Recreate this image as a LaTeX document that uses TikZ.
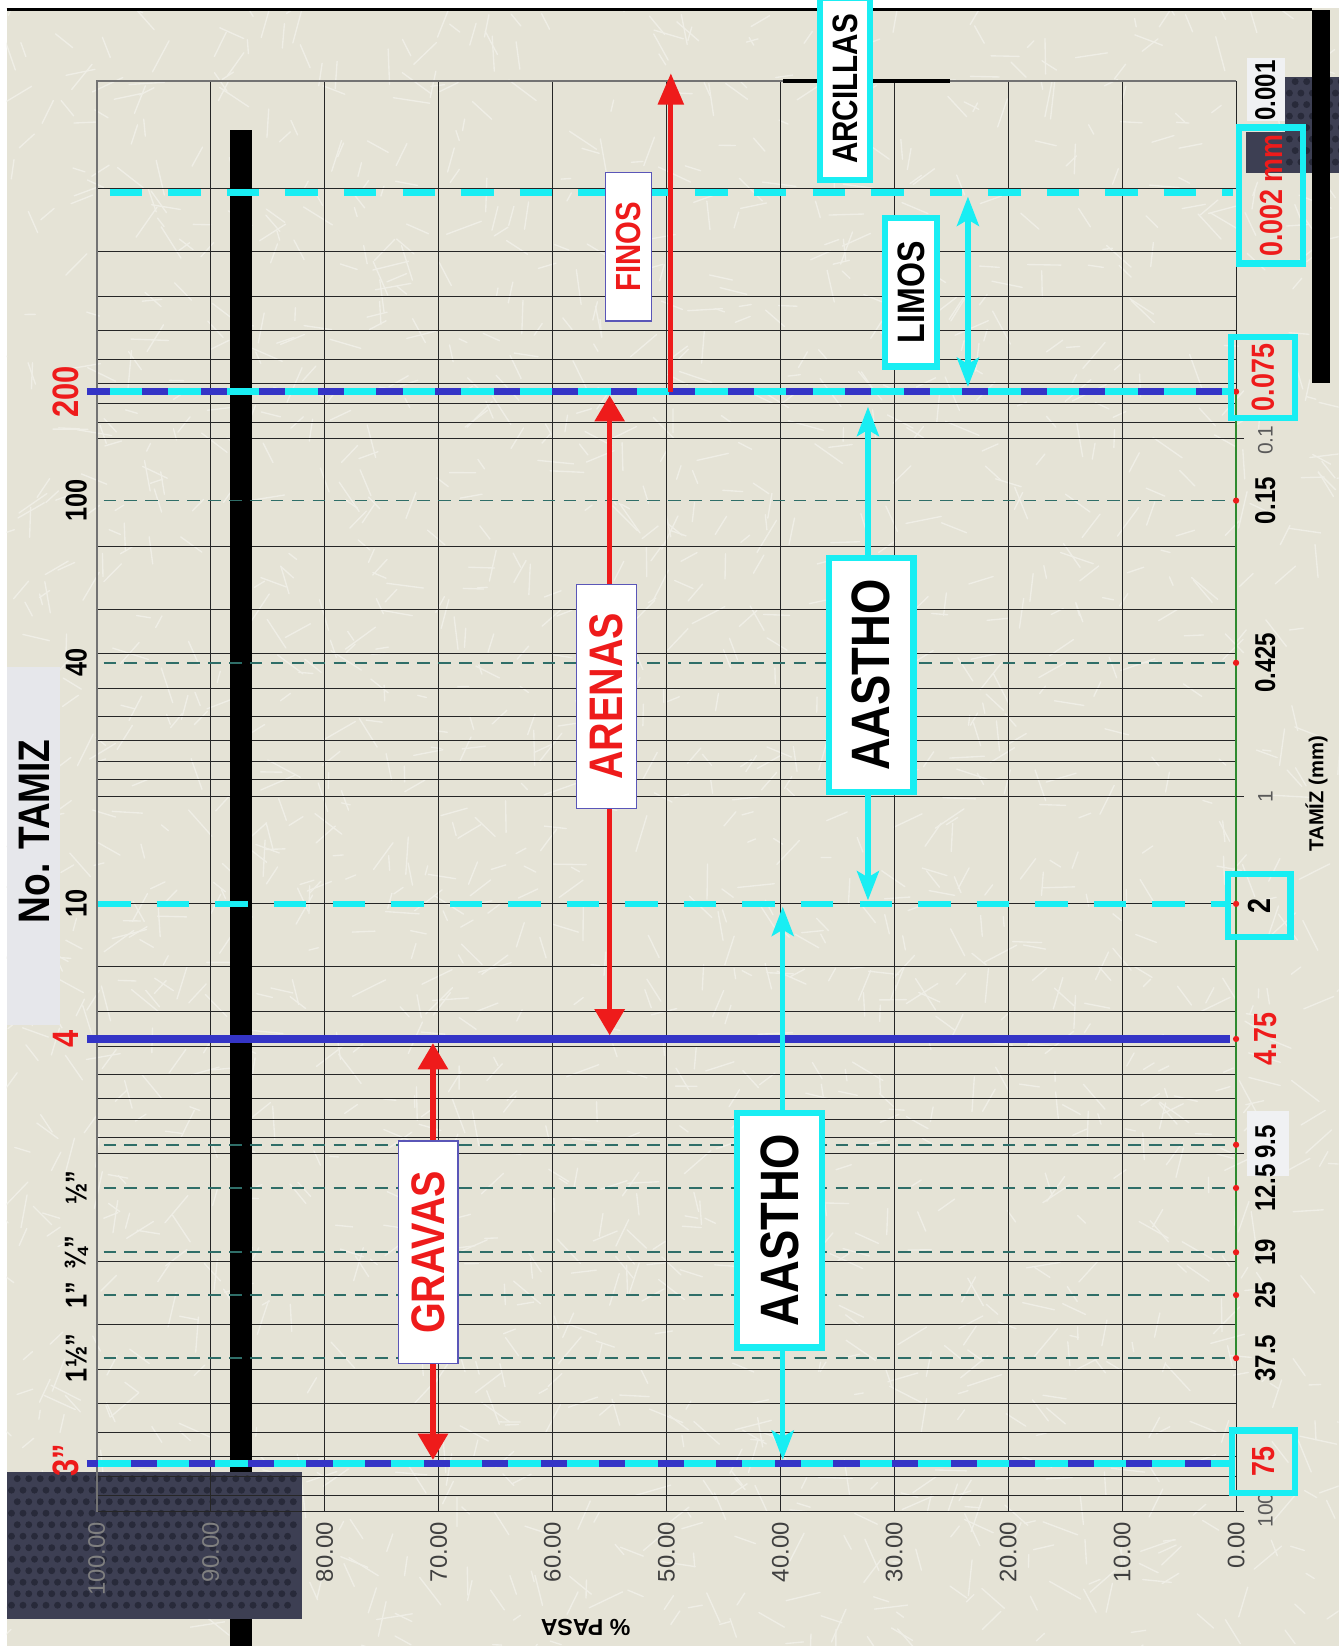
\documentclass[tikz,border=0pt]{standalone}
\usepackage{fontspec}
\setmainfont{Liberation Sans}
\newfontfamily\narrowsf[FakeStretch=0.84]{Liberation Sans}
\usepackage{xcolor}
\definecolor{xred}{HTML}{EE1B1B}
\definecolor{xblue}{HTML}{3434C6}
\definecolor{xcyan}{HTML}{19EEF3}
\definecolor{xteal}{HTML}{2F6E68}
\definecolor{xgreen}{HTML}{2F8A2F}
\definecolor{xpaper}{HTML}{E5E3D6}
\definecolor{xscratch}{HTML}{EFEEE6}
\definecolor{xbar}{HTML}{383838}
\definecolor{xnavy}{HTML}{3D3F53}
\definecolor{xnavydot}{HTML}{282A3A}
\definecolor{xframe}{HTML}{5A56B8}
\definecolor{xmist}{HTML}{E6E7EB}
\usepackage{tikz}
\usetikzlibrary{arrows.meta}
\newcommand{\fsz}[1]{\fontsize{#1}{#1}\selectfont}
\tikzset{
  %% Styles %%
  gridline/.style = {line width=0.1mm, black!85},
  sieveline/.style = {line width=0.16mm, xteal, dash pattern=on 1.2mm off 0.8mm},
  bluelimit/.style = {line width=0.7mm, xblue},
  cyanlimit/.style = {line width=0.7mm, xcyan, dash pattern=on 3.1mm off 2.5mm},
  redrange/.style = {xred, line width=0.5mm, {Triangle[width=2.8mm,length=2.5mm]}-{Triangle[width=2.8mm,length=2.5mm]}},
  redrise/.style = {xred, line width=0.5mm, -{Triangle[width=2.4mm,length=3.0mm]}},
  cyanrange/.style = {xcyan, line width=0.5mm, {Stealth[width=2.1mm,length=2.8mm,inset=0.6mm]}-{Stealth[width=2.1mm,length=2.8mm,inset=0.6mm]}},
  redtag/.style = {draw=xframe, line width=0.12mm, fill=white, text=xred, rotate=90, inner sep=0pt, font=\narrowsf\bfseries\fsz{#1}},
  cyantag/.style = {draw=xcyan, line width=0.6mm, fill=white, text=black, rotate=90, inner sep=0pt, font=\narrowsf\bfseries\fsz{#1}},
  valuebox/.style = {draw=xcyan, line width=0.6mm, rotate=90, inner sep=0pt, font=\narrowsf\bfseries\fsz{8.7pt}},
  sizelabel/.style = {rotate=90, inner sep=0pt, font=\narrowsf\bfseries\fsz{#1}},
  ticklabel/.style = {rotate=90, inner sep=0pt, text=black!65, font=\fsz{5.7pt}},
  pctlabel/.style = {rotate=90, anchor=east, inner sep=0pt, font=\fsz{6.5pt}},
}

\begin{document}
\begin{tikzpicture}[x=0.1mm, y=-0.1mm]
  \useasboundingbox (0,0) rectangle (1280,1574);
  % Paper
  \fill[white] (0,0) rectangle (1280,1574);
  \fill[xpaper] (6.4,8) rectangle (1280,1574);
  \begin{scope}
    \clip (6.4,8) rectangle (1280,1574);
    \pgfmathsetseed{11}
    \foreach \i in {1,...,1800}{
      \pgfmathsetmacro{\xa}{rnd*1280}
      \pgfmathsetmacro{\ya}{rnd*1574}
      \pgfmathsetmacro{\ang}{rnd*360}
      \pgfmathsetmacro{\len}{8+rnd*28}
      \draw[xscratch, line width=0.13mm, line cap=round] (\xa,\ya) -- ++(\ang:\len);
    }
  \end{scope}
  \draw[line width=0.28mm] (6.4,9.2) -- (1254.5,9.2);

  % Light and dark patches
  \fill[xmist] (6.4,637.5) rectangle (57.4,980);
  \fill[xmist!60!white] (1192,55.8) rectangle (1228.5,116);
  \fill[xmist!60!white] (1192,1062) rectangle (1233,1125);
  \fill[xnavy] (6.4,1408) rectangle (288.4,1548);
  \fill[xnavy] (1228.5,73.3) rectangle (1280,165.7);
  \fill[xnavy] (1191.8,125.9) rectangle (1241,165.7);
  \foreach \y [count=\r] in {1414,1425,...,1545}{
    \pgfmathsetmacro{\off}{mod(\r,2)*5.5}
    \foreach \x in {11,22,...,285}
      \fill[xnavydot] (\x+\off,\y) circle (0.33mm);
  }
  \foreach \y [count=\r] in {78,89,...,165}{
    \pgfmathsetmacro{\off}{mod(\r,2)*5.5}
    \foreach \x in {1233,1244,...,1278}
      \fill[xnavydot] (\x+\off,\y) circle (0.33mm);
  }
  \fill[xbar] (1254.5,9.6) rectangle (1272,366.5);

  % Grid
  \foreach \d in {0,...,3}
    \foreach \k in {2,...,10}{
      \pgfmathsetmacro{\yk}{77.4+342*(\d+log10(\k))}
      \draw[gridline] (92.5,\yk) -- (1182,\yk);
    }
  \foreach \v in {10,20,...,90}
    \draw[gridline] ({1182-\v*10.895},77.4) -- ({1182-\v*10.895},1445.5);
  \draw[black!55, line width=0.2mm] (92.5,1445.5) -- (92.5,77.4) -- (749,77.4);
  \draw[line width=0.35mm] (749,77.4) -- (908,77.4);
  \draw[black!55, line width=0.15mm] (908,77.4) -- (1182,77.4);
  \draw[gridline] (1182,77.4) -- (1182,374.5);
  \draw[xgreen, line width=0.25mm] (1182,374.5) -- (1182,1298.7);
  \draw[gridline] (1182,1298.7) -- (1182,1445.5);
  \foreach \yt in {419.4,761.4,1103.4,1445.4}
    \draw[gridline] (1182,\yt) -- (1190,\yt);
  \fill[xbar] (220,124) rectangle (241,1408);
  \fill[xbar] (220,1548) rectangle (241,1580);

  % Sieve lines
  \foreach \ys in {478.7,633.8,1094.7,1136,1197.5,1238.4,1298.7}
    \draw[sieveline] (99,\ys) -- (1182,\ys);
  \draw[cyanlimit] (105,184) -- (1179,184);
  \draw[bluelimit] (83,374.5) -- (1176,374.5);
  \draw[cyanlimit, dash phase=-1.1mm] (94,374.5) -- (1176,374.5);
  \draw[cyanlimit, line width=0.6mm] (94,864.3) -- (1174,864.3);
  \draw[bluelimit] (83,993.5) -- (1176,993.5);
  \draw[bluelimit] (83,1399.5) -- (1176,1399.5);
  \draw[cyanlimit] (94,1399.5) -- (1176,1399.5);
  \foreach \yd in {374.5,478.7,633.8,864.3,993.5,1094.7,1136,1197.5,1238.4,1298.7}
    \fill[xred] (1182,\yd) circle (0.3mm);

  % Ranges
  \coordinate (finosBase) at (641.5,374.5);
  \coordinate (finosTip) at (641.5,70);
  \coordinate (arenasTop) at (583,378);
  \coordinate (arenasBot) at (583,990);
  \coordinate (gravasTop) at (414,997.5);
  \coordinate (gravasBot) at (414,1396);
  \coordinate (fineTop) at (830,389);
  \coordinate (fineBot) at (830,861);
  \coordinate (coarseTop) at (748.5,867);
  \coordinate (coarseBot) at (748.5,1396);
  \coordinate (limosTop) at (925.6,188);
  \coordinate (limosBot) at (925.6,370);
  \draw[redrise] (finosBase) -- (finosTip);
  \draw[redrange] (arenasTop) -- (arenasBot);
  \draw[redrange] (gravasTop) -- (gravasBot);
  \draw[cyanrange] (fineTop) -- (fineBot);
  \draw[cyanrange] (coarseTop) -- (coarseBot);
  \draw[cyanrange] (limosTop) -- (limosBot);

  % Tags
  \node[redtag=9.5pt, minimum width=14.2mm, minimum height=4.4mm] (finos) at (601,236) {FINOS};
  \node[redtag=12.8pt, minimum width=21.4mm, minimum height=5.8mm] (arenas) at (580,666) {ARENAS};
  \node[redtag=12.8pt, minimum width=21.3mm, minimum height=5.7mm] (gravas) at (409.5,1197.5) {GRAVAS};
  \node[cyantag=14.7pt, minimum width=22.4mm, minimum height=8.1mm] (aasthoFine) at (833,645.5) {AASTHO};
  \node[cyantag=14.7pt, minimum width=22.4mm, minimum height=8.1mm] (aasthoCoarse) at (745.5,1176.5) {AASTHO};
  \node[cyantag=10.4pt, minimum width=14.2mm, minimum height=5.0mm] (limos) at (871,279.5) {LIMOS};
  \node[cyantag=9.6pt, minimum width=17.4mm, minimum height=4.8mm] (arcillas) at (808,85) {ARCILLAS};

  % Size axis
  \foreach \val/\yv [count=\i] in {0.001/86.5, 0.15/478.7, 0.425/633.8, 9.5/1092, 12.5/1136, 19/1197.5, 25/1238.4, 37.5/1298.7}
    \node[sizelabel=7.8pt] (size\i) at (1210,\yv) {\val};
  \node[sizelabel=8.7pt, text=xred] (sizeFour) at (1210,993.5) {4.75};
  \node[ticklabel] (tickA) at (1210,421) {0.1};
  \node[ticklabel] (tickB) at (1210,761.5) {1};
  \node[ticklabel] (tickC) at (1210,1444) {100};
  \node[valuebox, text=xred, minimum width=13.0mm, minimum height=6.1mm] (clayBox) at (1215.5,187) {0.002 mm};
  \node[valuebox, text=xred, minimum width=7.8mm, minimum height=6.1mm] (siltBox) at (1207.5,361) {0.075};
  \node[valuebox, minimum width=6.0mm, minimum height=6.0mm] (sandBox) at (1204,866) {2};
  \node[valuebox, text=xred, minimum width=6.0mm, minimum height=6.0mm] (gravelBox) at (1208,1398) {75};
  \node[rotate=90, font=\bfseries\fsz{5.5pt}] (sizeTitle) at (1259,759) {TAMÍZ (mm)};

  % Sieve numbers
  \foreach \lab/\yv [count=\i] in {100/478.7, 40/633.8, 10/864.3, ½”/1136, ¾”/1197.5, 1”/1238.4, 1½”/1298.7}
    \node[sizelabel=8.2pt] (sieve\i) at (73,\yv) {\lab};
  \foreach \lab/\yv [count=\i] in {200/374.5, 4/993.5, 3”/1396}
    \node[sizelabel=10pt, text=xred] (limit\i) at (63,\yv) {\lab};
  \node[sizelabel=12pt] (sieveTitle) at (33,795) {No. TAMIZ};

  % Percent axis
  \foreach \v [count=\i] in {100,90}
    \node[pctlabel, text=black!50] (pctDark\i) at ({1182-\v*10.895},1455) {\v.00};
  \foreach \v [count=\i] in {80,70,...,0}
    \node[pctlabel, text=black!75] (pct\i) at ({1182-\v*10.895},1455) {\v.00};
  \node[rotate=180, font=\bfseries\fsz{6.3pt}] (pasa) at (560,1556) {\% PASA};
\end{tikzpicture}
\end{document}
